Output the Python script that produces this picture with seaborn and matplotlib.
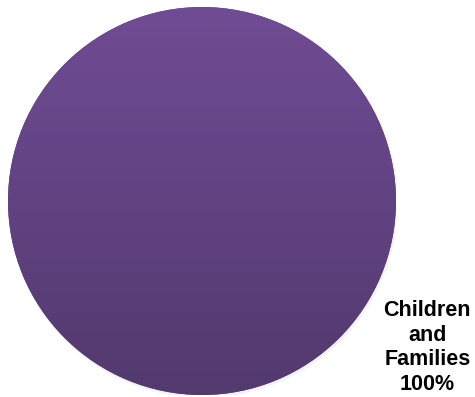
import numpy as np
import matplotlib
matplotlib.use("Agg")
import matplotlib.pyplot as plt
import matplotlib.patches as mpatches
import seaborn as sns

categories = ["Children\nand\nFamilies"]
shares = [100]
labels = [f"{c}\n{v}%" for c, v in zip(categories, shares)]

sns.set_theme(style="white")
plt.rcParams['font.family'] = ['Liberation Sans', 'DejaVu Sans']

W, H = 475, 397
fig = plt.figure(figsize=(W / 100, H / 100), dpi=100)
cx, cy, r = 202, 196, 194
ax = fig.add_axes([(cx - r) / W, (cy - r) / H, 2 * r / W, 2 * r / H])

# soft shadow under the pie
for i, a in enumerate([0.03, 0.03, 0.04]):
    ax.add_patch(mpatches.Circle((0.004 + 0.002 * i, -0.008 - 0.003 * i), 1.0 + 0.003 * (2 - i),
                                 color="#808080", alpha=a, lw=0, zorder=0))

wedges, texts = ax.pie(shares, labels=labels, startangle=-213.0, labeldistance=1.385,
                       colors=["#62468a"], radius=1,
                       wedgeprops=dict(linewidth=0),
                       textprops=dict(fontsize=15.5, fontweight="bold", color="#000000"))
for t in texts:
    t.set_ha("center")
    t.set_va("center")
    t.set_multialignment("center")
    t.set_linespacing(1.22)
    t.set_clip_on(False)

# vertical gradient fill clipped to the wedge
top = np.array([0x70, 0x4c, 0x94]) / 255
bot = np.array([0x52, 0x39, 0x6e]) / 255
g = np.linspace(0, 1, 256)[:, None]
img = top[None, None, :] * (1 - g[..., None]) + bot[None, None, :] * g[..., None]
img = np.repeat(img, 2, axis=1)
im = ax.imshow(img, extent=[-1, 1, -1, 1], aspect="auto", zorder=2, interpolation="bilinear")
im.set_clip_path(wedges[0])

ax.set_xlim(-1, 1)
ax.set_ylim(-1, 1)
ax.set_aspect("equal")
ax.axis("off")

fig.savefig("out.png", dpi=100, facecolor="white")
